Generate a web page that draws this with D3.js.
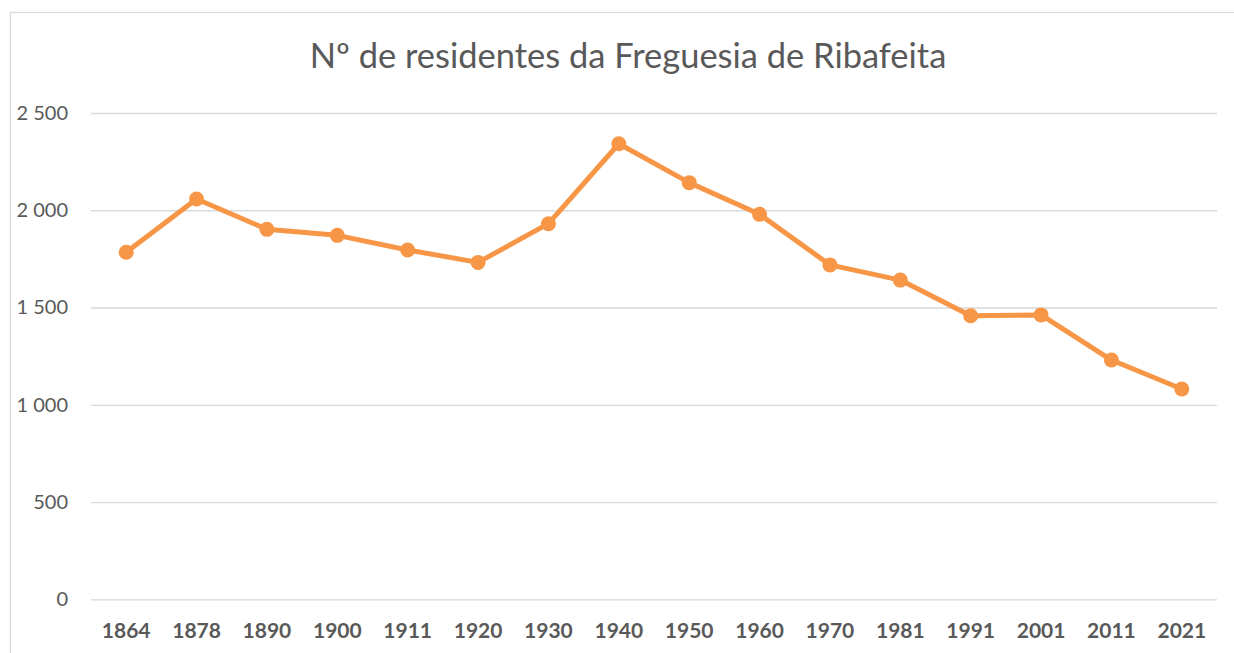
<!DOCTYPE html>
<html>
<head>
<meta charset="utf-8">
<script src="https://cdn.jsdelivr.net/npm/d3@7"></script>
<style>
  html, body { margin: 0; padding: 0; background: #ffffff; overflow: hidden; }
  svg { display: block; }
</style>
</head>
<body>
<svg id="chart" width="1234" height="653"></svg>
<script>
const titleText = "Nº de residentes da Freguesia de Ribafeita";
const years = ["1864","1878","1890","1900","1911","1920","1930","1940","1950","1960","1970","1981","1991","2001","2011","2021"];
const residents = [1784, 2058, 1902, 1871, 1796, 1732, 1931, 2342, 2142, 1979, 1719, 1641, 1458, 1462, 1230, 1081];
const yTicks = [0, 500, 1000, 1500, 2000, 2500];

const font = "Lato, 'Open Sans', sans-serif";
const textColor = "#595959";
const lineColor = "#F79646";

const svg = d3.select("#chart");

// outer frame
svg.append("rect")
  .attr("x", 10.5).attr("y", 12.5)
  .attr("width", 1400).attr("height", 800)
  .attr("fill", "#fff").attr("stroke", "#d9d9d9").attr("stroke-width", 1.2);

const x = d3.scaleBand().domain(years).range([91, 1217]).padding(0);
const y = d3.scaleLinear().domain([0, 2500]).range([599.3, 113]);

// gridlines
const grid = svg.append("g")
  .attr("transform", "translate(91,0)")
  .call(d3.axisLeft(y).tickValues(yTicks).tickSize(-1126).tickFormat(""));
grid.select(".domain").remove();
grid.selectAll(".tick line").attr("stroke", "#d9d9d9").attr("stroke-width", 1.3);

// y labels
const fmt = v => d3.format(",")(v).replace(/,/g, " ");
const yAxis = svg.append("g")
  .attr("transform", "translate(68,0)")
  .call(d3.axisLeft(y).tickValues(yTicks).tickSize(0).tickPadding(0).tickFormat(fmt));
yAxis.select(".domain").remove();
yAxis.selectAll("text")
  .attr("font-family", font).attr("font-size", 20).attr("fill", textColor);

// x labels
const xAxis = svg.append("g")
  .attr("transform", "translate(0,599.3)")
  .call(d3.axisBottom(x).tickSize(0).tickPadding(24));
xAxis.select(".domain").remove();
xAxis.selectAll("text")
  .attr("font-family", font).attr("font-size", 21).attr("font-weight", "bold").attr("fill", textColor);

// line
const cx = d => x(d) + x.bandwidth() / 2;
const line = d3.line()
  .x((d, i) => cx(years[i]))
  .y(d => y(d));
svg.append("path")
  .datum(residents)
  .attr("d", line)
  .attr("fill", "none")
  .attr("stroke", lineColor)
  .attr("stroke-width", 5)
  .attr("stroke-linejoin", "round");

svg.append("g").selectAll("circle")
  .data(residents)
  .join("circle")
  .attr("cx", (d, i) => cx(years[i]))
  .attr("cy", d => y(d))
  .attr("r", 7.5)
  .attr("fill", lineColor);

// title
const title = svg.append("text")
  .attr("x", 628).attr("y", 68)
  .attr("text-anchor", "middle")
  .attr("font-family", font).attr("font-size", 31)
  .attr("fill", textColor)
  .text(titleText);
const tw = title.node().getComputedTextLength();
title.attr("font-size", 31 * 637 / tw);
</script>
</body>
</html>
